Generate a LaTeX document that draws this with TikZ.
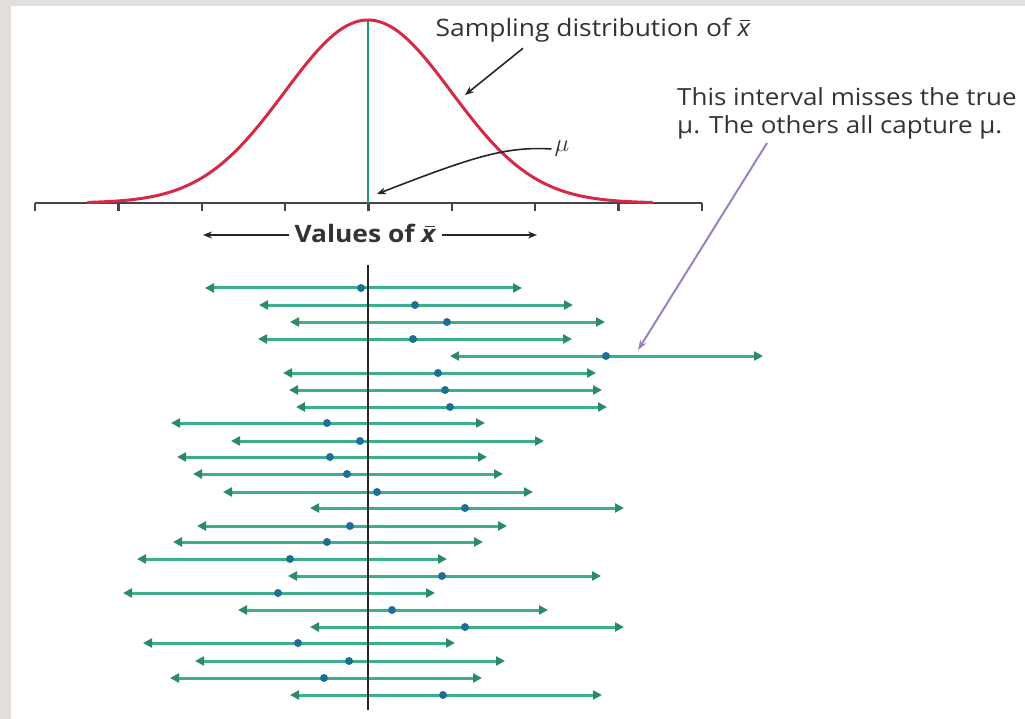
\documentclass[tikz,border=0pt]{standalone}
\usepackage{fontspec}
\setmainfont{Open Sans}[FakeStretch=1.1]
\usetikzlibrary{arrows.meta}
\definecolor{framegray}{HTML}{E2DFDC}
\definecolor{curvered}{HTML}{D42A45}
\definecolor{ivgreen}{HTML}{3AAE8E}
\definecolor{tipgreen}{HTML}{2C8A6A}
\definecolor{dotblue}{HTML}{1F6E94}
\definecolor{axisgray}{HTML}{454545}
\definecolor{txtgray}{HTML}{333333}
\definecolor{callpurple}{HTML}{9B80C4}
\definecolor{meanteal}{HTML}{1E9A78}
\newcommand{\xbarsans}{\leavevmode\hbox{\itshape x}\llap{\raisebox{0.62em}{\rule{0.42em}{0.07em}}\hspace{0.02em}}}
\begin{document}
\begin{tikzpicture}[x=1pt,y=-1pt,
  lbl/.style={text=txtgray,font=\fontsize{24}{28}\selectfont,inner sep=0pt},
  interval/.style={line width=3pt,ivgreen,
    {Triangle[length=9pt,width=9pt,color=tipgreen]}-{Triangle[length=9pt,width=9pt,color=tipgreen]}},
  dotnode/.style={circle,fill=dotblue,minimum size=8pt,inner sep=0pt},
  blackarrow/.style={line width=1.6pt,black!85,-{Stealth[length=9pt,width=7pt]}},
  axisline/.style={line width=2.4pt,axisgray}
]
\useasboundingbox (0,0) rectangle (1025,719);
\fill[framegray] (0,0) rectangle (1025,719);
\fill[white] (11,6) rectangle (1025,719);

% axis and ticks
\draw[axisline] (35,203) -- (702,203);
\foreach \t in {0,...,8}{
  \draw[axisline] ({35+83.375*\t},203) -- ++(0,8);
}
% mean line
\coordinate (peak) at (368,20);
\coordinate (base) at (368,203);
\draw[line width=1.5pt,meanteal] (base) -- (peak);
% bell curve
\draw[line width=3pt,curvered,line cap=round]
  plot[domain=88:652,samples=160,smooth] (\x,{203-183*exp(-((\x-368)/83.4)^2/2)});

% labels on the top
\node[lbl] (samp) at (593,30) {Sampling distribution of \xbarsans};
\coordinate (sdtip) at (465,95);
\draw[blackarrow] ([xshift=-70pt,yshift=-6pt]samp.south) -- (sdtip);

\node[lbl,font=\fontsize{24}{28}\selectfont] (mulab) at (562,149) {$\mu$};
\coordinate (mutip) at (377,194);
\draw[blackarrow] ([xshift=-3pt]mulab.west) .. controls (505,146) and (470,158) .. (mutip);

\node[lbl,font=\bfseries\fontsize{24}{28}\selectfont] (vals) at (365,233) {Values of \xbarsans};
\coordinate (vl) at (203,235);
\coordinate (vr) at (537,235);
\draw[blackarrow] ([xshift=-5pt,yshift=-2pt]vals.west) -- (vl);
\draw[blackarrow] ([xshift=6pt,yshift=-2pt]vals.east) -- (vr);

\node[lbl,font=\fontsize{23.6}{28}\selectfont,anchor=north west,align=left] (callout) at (677,87)
  {This interval misses the true\\µ. The others all capture µ.};
\coordinate (misstip) at (638,350);
\draw[line width=2pt,callpurple,-{Stealth[length=10pt,width=7pt]}]
  ([xshift=90pt,yshift=-4pt]callout.south west) -- (misstip);

% intervals
\foreach \yy/\l/\d/\r [count=\i] in {
  288/205/361/522, 305/259/415/573, 322/290/447/605, 339/258/413/572,
  356/450/606/763, 373/283/438/596, 390/289/445/602, 407/296/450/607,
  423/171/327/485, 441/231/360/544, 457/177/330/487, 474/193/347/503,
  492/223/377/533, 508/310/465/624, 526/197/350/507, 542/173/327/483,
  559/137/290/447, 576/288/442/601, 593/123/278/435, 610/238/392/548,
  627/310/465/624, 643/143/298/455, 661/195/349/505, 678/170/324/482,
  695/290/443/602}{
  \coordinate (L\i) at (\l,\yy);
  \coordinate (R\i) at (\r,\yy);
  \draw[interval] (L\i) -- (R\i);
  \node[dotnode] (D\i) at (\d,\yy) {};
}
% true mean line
\coordinate (vtop) at (368,265);
\coordinate (vbot) at (368,710);
\draw[line width=2.4pt,black!85] (vtop) -- (vbot);
\end{tikzpicture}
\end{document}
